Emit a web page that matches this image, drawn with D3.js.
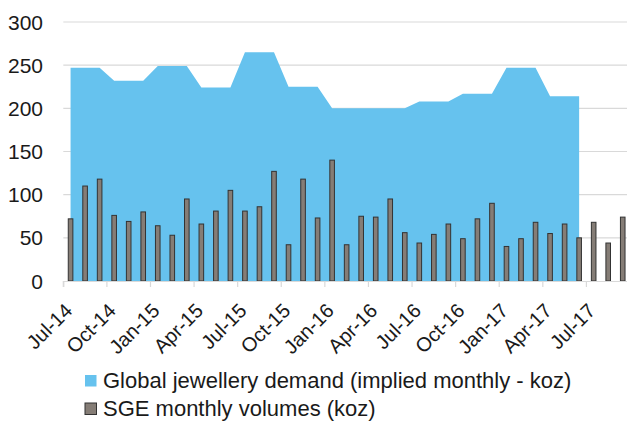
<!DOCTYPE html>
<html>
<head>
<style>
  body { margin: 0; background: #fff; }
  svg { display: block; font-family: "Liberation Sans", Arial, sans-serif; }
</style>
</head>
<body>
<svg width="627" height="421"></svg>
<script src="https://d3js.org/d3.v7.min.js"></script>
<script>

var months = ["Jul-14","Aug-14","Sep-14","Oct-14","Nov-14","Dec-14",
              "Jan-15","Feb-15","Mar-15","Apr-15","May-15","Jun-15",
              "Jul-15","Aug-15","Sep-15","Oct-15","Nov-15","Dec-15",
              "Jan-16","Feb-16","Mar-16","Apr-16","May-16","Jun-16",
              "Jul-16","Aug-16","Sep-16","Oct-16","Nov-16","Dec-16",
              "Jan-17","Feb-17","Mar-17","Apr-17","May-17","Jun-17",
              "Jul-17","Aug-17","Sep-17"];

// implied monthly jewellery demand (koz), Jul-14 .. Jun-17
var jewelleryDemand = [247,247,247, 232,232,232, 249,249,249, 224,224,224,
                       265,265,265, 225,225,225, 200,200,200, 200,200,200,
                       208,208,208, 217,217,217, 247,247,247, 214,214,214];

// SGE monthly volumes (koz), Jul-14 .. Sep-17
var sgeVolumes = [72,110,118, 76,69,80, 64,53,95, 66,81,105,
                  81,86,127, 42,118,73, 140,42,75, 74,95,56,
                  44,54,66, 49,72,90, 40,49,68, 55,66,50,
                  68,44,74];

var tickLabels = ["Jul-14","Oct-14","Jan-15","Apr-15","Jul-15","Oct-15","Jan-16",
                  "Apr-16","Jul-16","Oct-16","Jan-17","Apr-17","Jul-17"];

var yTicks = [0, 50, 100, 150, 200, 250, 300];

var legendLabels = ["Global jewellery demand (implied monthly - koz)",
                    "SGE monthly volumes (koz)"];

var svg = d3.select("svg"),
    plotLeft = 63.3, plotRight = 630, plotTop = 22, plotBottom = 281;

var blue = "#66c2ee", grey = "#857d76", dark = "#333";

var x = d3.scaleBand().domain(months).range([plotLeft, plotRight]);
var y = d3.scaleLinear().domain([0, 300]).range([plotBottom, plotTop]);

// gridlines
svg.append("g").selectAll("line")
    .data(yTicks.slice(1))
  .enter().append("line")
    .attr("x1", plotLeft).attr("x2", plotRight)
    .attr("y1", function(d) { return y(d); })
    .attr("y2", function(d) { return y(d); })
    .attr("stroke", "#d9d9d9")
    .attr("stroke-width", 1.2);

// y labels
svg.append("g").selectAll("text")
    .data(yTicks)
  .enter().append("text")
    .attr("x", 43)
    .attr("y", function(d) { return y(d); })
    .attr("dy", "0.36em")
    .attr("text-anchor", "end")
    .attr("font-size", "21px")
    .attr("fill", "#1a1a1a")
    .text(function(d) { return d; });

// demand area
var area = d3.area()
    .x(function(d, i) { return x(months[i]) + x.bandwidth() / 2; })
    .y0(y(0))
    .y1(function(d) { return y(d); });

svg.append("path")
    .datum(jewelleryDemand)
    .attr("fill", blue)
    .attr("d", area);

// SGE bars
var bw = 4.6;
svg.append("g").selectAll("rect")
    .data(sgeVolumes)
  .enter().append("rect")
    .attr("x", function(d, i) { return x(months[i]) + x.bandwidth() / 2 - bw / 2; })
    .attr("y", function(d) { return y(d); })
    .attr("width", bw)
    .attr("height", function(d) { return y(0) - y(d); })
    .attr("fill", grey)
    .attr("stroke", dark)
    .attr("stroke-width", 1);

// x axis
var xAxis = svg.append("g")
    .attr("transform", "translate(0," + plotBottom + ")")
    .call(d3.axisBottom(x).tickValues(tickLabels).tickSizeOuter(0).tickSize(6));

xAxis.select(".domain").attr("stroke", "#d9d9d9").attr("stroke-width", 1.2);
xAxis.selectAll(".tick line")
    .attr("x1", -x.step() / 2).attr("x2", -x.step() / 2)
    .attr("stroke", "#d9d9d9").attr("stroke-width", 1.2);
xAxis.selectAll(".tick text")
    .attr("x", 0).attr("y", 0).attr("dy", 0)
    .attr("transform", "translate(3,31) rotate(-45)")
    .attr("text-anchor", "end")
    .attr("font-size", "20px")
    .attr("font-family", "'Liberation Sans', Arial, sans-serif")
    .attr("fill", "#1a1a1a");

// legend
var legend = svg.append("g").selectAll("g")
    .data(legendLabels)
  .enter().append("g")
    .attr("transform", function(d, i) { return "translate(85," + (375 + i * 28) + ")"; });

legend.append("rect")
    .attr("width", 11.5).attr("height", 11.5)
    .attr("fill", function(d, i) { return i === 0 ? blue : grey; })
    .attr("stroke", function(d, i) { return i === 0 ? "none" : dark; })
    .attr("stroke-width", 1);

legend.append("text")
    .attr("x", 18)
    .attr("y", 12.8)
    .attr("font-size", "22px")
    .attr("fill", "#1a1a1a")
    .text(function(d) { return d; });

</script>
</body>
</html>
